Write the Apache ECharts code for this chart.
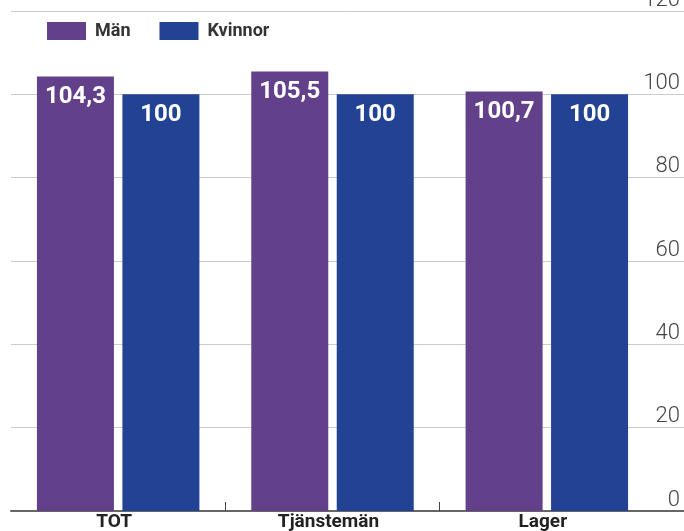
<!DOCTYPE html>
<html>
<head>
<meta charset="utf-8">
<script src="https://cdn.jsdelivr.net/npm/echarts@6/dist/echarts.min.js"></script>
<style>
  html, body { margin: 0; padding: 0; background: #fff; }
  #chart { width: 684px; height: 531px; }
</style>
</head>
<body>
<div id="chart"></div>
<script>
// data
const categories = ['TOT', 'Tjänstemän', 'Lager'];
const manValues = [104.3, 105.5, 100.7];
const kvinnorValues = [100, 100, 100];
const yTicks = [0, 20, 40, 60, 80, 100, 120];

const purple = '#62408a';
const blue = '#224394';

const chart = echarts.init(document.getElementById('chart'));

const barLabel = {
  show: true,
  position: 'insideTop',
  distance: 9,
  color: '#fff',
  fontFamily: 'Roboto',
  fontWeight: 'bold',
  fontSize: 24,
  formatter: p => String(p.value).replace('.', ',')
};

chart.setOption({
  animation: false,
  textStyle: { fontFamily: 'Roboto' },
  legend: {
    left: 42,
    top: 17,
    itemWidth: 39,
    itemHeight: 18,
    itemGap: 29,
    icon: 'rect',
    textStyle: { fontFamily: 'Roboto', fontSize: 18, fontWeight: 'bold', color: '#333', padding: [0, 0, 0, 4] },
    data: ['Män', 'Kvinnor']
  },
  grid: [
    // bars
    { left: 11, right: 30, top: 11, bottom: 20, outerBoundsMode: 'none' },
    // gridlines, y labels, axis line
    { left: 11, right: 0, top: 11, bottom: 20, outerBoundsMode: 'none' }
  ],
  xAxis: [
    {
      type: 'category', gridIndex: 0, data: categories, position: 'bottom',
      axisLine: { show: false },
      axisTick: { show: false },
      axisLabel: { color: '#222', fontSize: 19, fontWeight: 'bold', margin: 2, padding: [0, 8, 0, 0] }
    },
    {
      type: 'value', gridIndex: 0, min: 0, max: 3, position: 'bottom',
      axisLine: { show: false, onZero: false },
      splitLine: { show: false },
      axisLabel: { show: false },
      axisTick: { show: true, inside: true, length: 9, customValues: [1, 2], lineStyle: { color: '#444', width: 1 } }
    },
    {
      type: 'value', gridIndex: 1, min: 0, max: 1, position: 'bottom',
      axisLine: { show: true, onZero: false, lineStyle: { color: '#666', width: 2 } },
      axisTick: { show: false },
      axisLabel: { show: false },
      splitLine: { show: false }
    }
  ],
  yAxis: [
    {
      type: 'value', gridIndex: 0, min: 0, max: 120,
      show: false
    },
    {
      type: 'value', gridIndex: 1, min: 0, max: 120, interval: 20,
      position: 'right',
      axisLine: { show: false },
      axisTick: { show: false },
      splitLine: { show: true, lineStyle: { color: '#cccccc', width: 1 } },
      axisLabel: {
        inside: true, margin: 4, verticalAlign: 'bottom', align: 'right',
        color: '#444', fontSize: 22, fontWeight: 300,
        customValues: yTicks
      }
    }
  ],
  series: [
    {
      name: 'Män', type: 'bar', xAxisIndex: 0, yAxisIndex: 0,
      data: manValues, itemStyle: { color: purple },
      barWidth: 77, barGap: '11%', label: barLabel
    },
    {
      name: 'Kvinnor', type: 'bar', xAxisIndex: 0, yAxisIndex: 0,
      data: kvinnorValues, itemStyle: { color: blue },
      barWidth: 77, label: barLabel
    }
  ]
});
</script>
</body>
</html>
